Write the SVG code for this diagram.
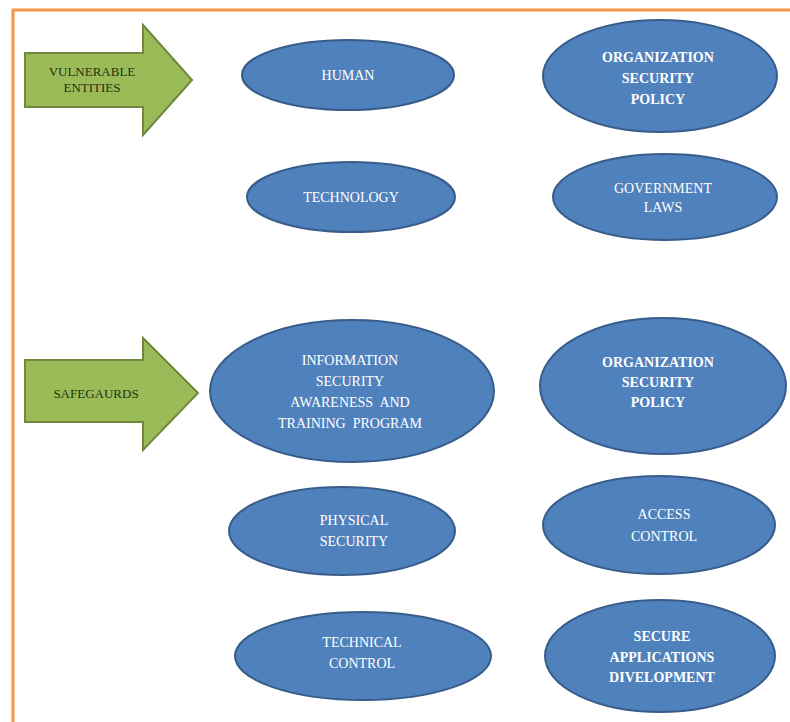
<svg xmlns="http://www.w3.org/2000/svg" width="790" height="722" viewBox="0 0 790 722">
<style>
.e{fill:#4F81BD;stroke:#385D8A;stroke-width:2}
.t{font-family:"Liberation Serif","Times New Roman",serif;font-size:14px;fill:#ffffff;text-anchor:middle;white-space:pre}
.b{font-weight:bold}
.arr{fill:#9BBB59;stroke:#71893F;stroke-width:2}
.at{font-family:"Liberation Serif","Times New Roman",serif;font-size:13px;fill:#24320E;text-anchor:middle}
</style>
<rect x="0" y="0" width="790" height="722" fill="#ffffff"/>
<path d="M13,724 L13,10 L792,10" fill="none" stroke="#F79646" stroke-width="3"/>
<g id="connectors">
<g id="arrow-vulnerable">
<polygon class="arr" points="25,53 143,53 143,25 192,80 143,135 143,107 25,107"/>
<text class="at" x="92" y="76">VULNERABLE</text>
<text class="at" x="92" y="92">ENTITIES</text>
</g>
<g id="arrow-safeguards">
<polygon class="arr" points="25,360 143,360 143,338 198,393 143,450 143,422 25,422"/>
<text class="at" x="96" y="398">SAFEGAURDS</text>
</g>
</g>
<g id="human"><ellipse class="e" cx="348" cy="75" rx="106" ry="35"/><text class="t" x="348" y="80">HUMAN</text></g>
<g id="technology"><ellipse class="e" cx="351" cy="197" rx="104" ry="35"/><text class="t" x="351" y="202">TECHNOLOGY</text></g>
<g id="org-policy-1"><ellipse class="e" cx="660" cy="76" rx="117" ry="56"/>
<text class="t b" x="658" y="62">ORGANIZATION</text><text class="t b" x="658" y="83">SECURITY</text><text class="t b" x="658" y="104">POLICY</text></g>
<g id="gov-laws"><ellipse class="e" cx="665" cy="197" rx="112" ry="43"/>
<text class="t" x="663" y="193">GOVERNMENT</text><text class="t" x="663" y="212">LAWS</text></g>
<g id="info-sec"><ellipse class="e" cx="352" cy="391" rx="142" ry="71"/>
<text class="t" x="350" y="365">INFORMATION</text><text class="t" x="350" y="386">SECURITY</text><text class="t" x="350" y="407">AWARENESS  AND</text><text class="t" x="350" y="428">TRAINING  PROGRAM</text></g>
<g id="org-policy-2"><ellipse class="e" cx="663" cy="386" rx="123" ry="68"/>
<text class="t b" x="658" y="367">ORGANIZATION</text><text class="t b" x="658" y="387">SECURITY</text><text class="t b" x="658" y="407">POLICY</text></g>
<g id="physical"><ellipse class="e" cx="342" cy="531" rx="113" ry="44"/>
<text class="t" x="354" y="525">PHYSICAL</text><text class="t" x="354" y="546">SECURITY</text></g>
<g id="access"><ellipse class="e" cx="659" cy="525" rx="116" ry="49"/>
<text class="t" x="664" y="519">ACCESS</text><text class="t" x="664" y="541">CONTROL</text></g>
<g id="technical"><ellipse class="e" cx="363" cy="656" rx="128" ry="44"/>
<text class="t" x="362" y="647">TECHNICAL</text><text class="t" x="362" y="668">CONTROL</text></g>
<g id="secure-apps"><ellipse class="e" cx="660" cy="656" rx="115" ry="56"/>
<text class="t b" x="662" y="641">SECURE</text><text class="t b" x="662" y="662">APPLICATIONS</text><text class="t b" x="662" y="682">DIVELOPMENT</text></g>
</svg>
